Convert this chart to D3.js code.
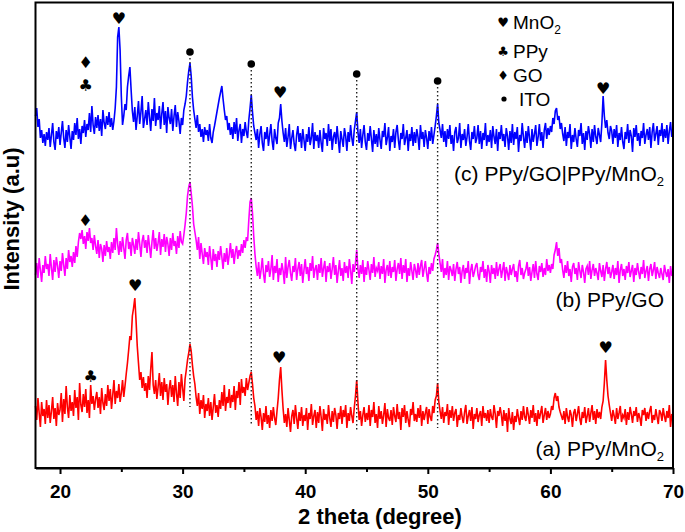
<!DOCTYPE html>
<html>
<head>
<meta charset="utf-8">
<script src="https://cdn.jsdelivr.net/npm/d3@7"></script>
<style>
  html, body { margin: 0; padding: 0; background: #fff; }
  svg { display: block; }
</style>
</head>
<body>
<svg id="chart" width="685" height="532"></svg>
<script>
// ---------------- DATA ----------------
// 2 theta grid: 18.0 .. 70.0 in steps of 0.1 degree
const thetaStart = 18, thetaEnd = 70, thetaStep = 0.1;
const xTicks = [20, 30, 40, 50, 60, 70];
const xMinorTicks = [25, 35, 45, 55, 65];

// (c) PPy/GO|PPy/MnO2 (stacked intensity, a.u.)
const seriesC = [
352,360,341,349,330,338,325,334,322,336,
328,340,321,333,345,326,318,337,329,341,
323,335,347,330,320,338,326,343,331,319,
337,328,345,333,350,329,339,324,342,335,
348,331,344,338,355,336,362,343,334,351,
340,353,337,349,332,358,345,339,352,343,
356,341,350,338,347,360,381,431,441,418,
372,343,352,364,358,381,392,401,378,357,
346,361,338,352,367,344,356,372,340,349,
358,343,366,351,337,359,347,370,342,355,
348,362,339,354,366,343,357,335,361,350,
344,359,337,352,363,341,356,347,334,350,
343,358,364,372,386,397,405,392,371,358,
349,340,353,336,344,331,339,326,341,333,
338,327,344,330,325,336,342,349,356,363,
370,376,382,369,358,348,352,338,345,333,
341,329,346,334,350,327,338,344,325,339,
332,346,336,330,348,360,373,356,342,335,
328,339,320,334,342,325,317,336,329,341,
322,333,344,327,318,339,330,324,345,350,
364,347,335,326,340,321,331,344,319,330,
338,324,317,333,342,326,335,320,339,328,
317,334,326,341,323,330,345,319,336,327,
333,320,338,325,316,340,329,335,322,344,
327,339,318,331,336,324,342,328,315,337,
329,321,340,332,317,336,326,343,330,322,
338,347,356,336,325,339,320,333,343,326,
318,335,327,342,329,316,338,324,334,321,
340,328,319,337,331,345,323,330,341,317,
332,326,339,320,336,343,328,318,335,329,
344,323,330,338,317,334,327,341,322,336,
325,339,331,318,343,329,336,321,338,330,
319,337,327,341,324,333,342,352,364,345,
338,330,344,326,337,321,339,329,343,324,
333,317,336,341,325,330,345,320,334,328,
339,322,331,344,327,318,336,329,342,325,
330,343,324,337,319,335,328,345,322,333,
326,338,320,342,331,324,339,317,336,329,
343,327,334,321,340,332,318,337,325,344,
323,336,329,341,316,333,327,345,331,320,
337,325,342,330,318,339,326,334,343,322,
331,344,327,336,320,338,345,329,340,333,
342,336,350,344,357,360,348,352,339,345,
334,327,341,322,336,330,344,319,333,326,
340,329,321,338,332,345,324,335,318,337,
328,342,334,320,339,326,343,331,324,340,
333,326,345,372,352,340,348,335,329,342,
337,324,339,330,343,321,335,328,341,326,
319,336,329,344,325,338,332,316,340,331,
343,327,335,322,337,330,345,324,333,339,
328,341,320,336,345,327,334,342,323,338,
332,345,326,339,330,343,324,337,346,331,
340];

// (b) PPy/GO
const seriesB = [
193,205,190,210,198,186,203,195,212,199,
204,192,214,200,188,208,196,211,202,190,
207,197,215,203,192,210,199,218,206,212,
201,216,205,222,211,226,235,229,238,224,
232,219,236,227,240,225,230,218,233,222,
214,228,210,224,219,206,223,212,227,216,
221,209,226,215,230,218,240,224,213,227,
216,231,220,209,228,235,219,226,212,230,
223,214,229,218,236,224,211,227,233,220,
228,215,233,222,210,226,238,219,230,217,
225,236,213,229,221,234,216,231,224,212,
230,218,235,222,227,214,232,220,237,226,
224,233,243,255,272,281,286,275,262,244,
236,228,218,231,209,225,214,204,220,211,
216,203,222,210,198,219,207,214,201,217,
208,222,211,199,215,206,220,203,213,225,
210,219,204,216,222,209,218,212,224,215,
228,220,231,227,248,266,270,255,232,214,
201,192,206,189,198,210,194,185,203,196,
207,191,199,213,188,202,195,209,186,200,
193,205,197,184,211,190,201,208,195,187,
202,196,210,188,199,206,192,204,185,198,
209,194,201,187,205,197,212,190,199,203,
188,204,195,210,191,200,207,186,202,196,
205,189,199,211,193,203,185,197,208,192,
200,187,206,195,202,190,209,198,184,204,
196,205,218,199,190,203,194,208,186,201,
193,207,198,188,204,195,211,191,200,197,
206,189,202,194,209,185,198,203,192,207,
190,201,196,208,187,199,205,194,210,189,
203,195,209,186,200,192,206,197,188,204,
198,190,205,193,202,208,191,199,207,195,
186,201,194,205,197,209,213,218,225,214,
205,196,209,190,200,193,207,188,202,198,
192,204,187,199,206,194,201,185,197,203,
189,200,195,207,184,198,204,191,196,202,
205,193,188,201,196,207,190,199,186,203,
197,185,203,194,200,189,206,192,199,204,
190,198,206,187,201,195,188,203,193,199,
204,191,197,186,202,208,193,200,189,195,
199,206,192,201,187,196,204,190,207,194,
188,202,196,205,191,200,193,209,197,203,
195,204,199,213,218,226,212,220,205,209,
198,190,203,195,207,192,199,186,201,205,
194,200,188,206,197,190,203,196,185,199,
202,193,207,189,198,204,192,200,195,188,
205,197,191,203,187,199,206,194,201,190,
196,203,189,200,193,207,185,198,204,192,
199,188,202,195,206,191,197,203,186,200,
193,205,196,189,201,194,208,190,197,202,
187,199,204,192,198,206,189,201,195,190,
200,194,188,203,196,191,199,185,202,192,
197];

// (a) PPy/MnO2
const seriesA = [
62,48,70,55,41,66,52,59,44,68,
50,63,45,57,71,49,60,42,65,53,
58,75,46,69,54,82,61,50,73,57,
66,52,78,60,71,48,85,63,56,74,
61,79,55,68,50,83,64,72,58,69,
76,60,71,54,80,65,58,74,62,83,
67,79,59,73,88,64,77,70,84,66,
75,88,71,82,94,105,118,132,128,152,
160,170,148,122,105,88,96,80,91,77,
85,70,92,78,99,116,83,74,88,69,
81,95,72,86,68,90,76,84,63,79,
88,71,83,66,92,75,62,86,70,94,
80,67,89,98,108,115,124,117,103,92,
84,71,62,75,54,68,59,73,50,64,
57,70,52,66,48,61,74,55,63,51,
68,59,76,62,83,57,71,65,79,60,
73,66,82,58,77,70,86,63,89,75,
81,72,90,78,85,92,96,84,70,62,
48,57,42,60,51,38,55,46,62,44,
53,40,58,47,61,50,43,57,70,88,
101,78,59,45,54,41,60,48,36,52,
58,44,63,50,39,56,47,61,42,53,
47,60,38,55,49,64,43,52,58,40,
56,45,62,51,37,59,48,54,44,63,
50,41,57,46,60,53,39,55,49,62,
44,58,51,63,40,55,47,61,52,45,
60,72,88,66,48,57,42,53,61,46,
55,48,63,42,58,51,66,45,54,40,
62,49,57,44,53,65,41,59,50,47,
58,43,61,52,46,64,49,56,38,60,
51,63,45,57,48,41,59,53,66,47,
54,46,60,50,63,42,57,48,55,61,
44,59,51,47,62,55,68,72,85,66,
57,49,61,45,56,52,64,43,58,50,
62,47,55,59,41,53,48,60,51,45,
56,63,44,52,58,47,61,39,54,49,
60,46,53,57,42,62,50,55,47,58,
45,59,51,48,63,54,40,57,52,61,
53,42,58,47,55,36,60,49,44,56,
38,52,46,59,50,43,57,48,62,51,
47,61,53,44,58,50,63,46,55,42,
58,49,55,62,45,53,60,48,57,50,
54,62,58,70,75,67,72,61,56,52,
48,57,44,60,51,46,58,53,41,55,
59,47,54,62,49,43,56,50,61,45,
52,60,46,55,63,48,57,44,59,50,
56,49,61,67,85,108,88,72,63,55,
47,58,52,44,60,49,55,62,46,53,
50,59,43,56,48,61,54,45,57,52,
61,46,55,50,42,58,53,60,47,56,
49,57,62,45,53,48,59,51,44,58,
55,47,60,52,46,57,50,63,41,54,
51];

const seriesColors = ["#0000FF", "#FF00FF", "#FF0000"];
const seriesLabels = ["(c) PPy/GO|PPy/MnO", "(b) PPy/GO", "(a) PPy/MnO"];
const seriesLabelSubs = ["2", "", "2"];
const seriesLabelLevels = [287, 161, 12];

// ITO reference lines: 2 theta, top level, bottom level
const itoTheta = [30.6, 35.6, 44.2, 50.8];
const itoTop = [410, 398, 388, 381];
const itoBottom = [61, 43, 38, 40];

// phase markers placed on peaks: symbol, 2 theta, level
const markSymbols = ["\u2666", "\u2663", "\u2665", "\u2665", "\u2665", "\u2666", "\u2665", "\u2663", "\u2665", "\u2665"];
const markTheta =   [22.1, 22.1, 24.8, 37.96, 64.3, 22.07, 26.12, 22.5, 37.88, 64.5];
const markLevel =   [406, 383, 450, 376, 380, 248, 183, 92, 111, 121];

// legend
const legendSymbols = ["\u2665", "\u2663", "\u2666", "\u25CF"];
const legendNames = ["MnO", "PPy", "GO", "ITO"];
const legendSubs = ["2", "", "", ""];

// ---------------- CHART ----------------
const svg = d3.select("#chart");
const pL = 35.5, pR = 673, pT = 2.5, pB = 468;
const x = d3.scaleLinear().domain([thetaStart, thetaEnd]).range([pL, pR]);
const y = d3.scaleLinear().domain([0, 465]).range([pB, pT + 0.5]);

const thetas = seriesA.map((_, i) => thetaStart + i * thetaStep);
const line = d3.line().x((d, i) => x(thetas[i])).y(d => y(d));

const textFont = "'Liberation Sans', Arial, Helvetica, sans-serif";
const symFont = "'DejaVu Sans', sans-serif";

// traces
[seriesC, seriesB, seriesA].forEach((s, k) => {
  svg.append("path")
    .datum(s)
    .attr("fill", "none")
    .attr("stroke", seriesColors[k])
    .attr("stroke-width", 1.6)
    .attr("stroke-linejoin", "miter")
    .attr("d", line);
});

// dotted ITO lines
svg.append("g").selectAll("line").data(itoTheta).join("line")
  .attr("x1", d => x(d)).attr("x2", d => x(d))
  .attr("y1", (d, i) => y(itoTop[i])).attr("y2", (d, i) => y(itoBottom[i]))
  .attr("stroke", "#222").attr("stroke-width", 1.4)
  .attr("stroke-dasharray", "1.4,2.6");

// ITO dots
svg.append("g").selectAll("circle").data(itoTheta).join("circle")
  .attr("cx", d => x(d)).attr("cy", (d, i) => y(itoTop[i]) - 6)
  .attr("r", 3.8).attr("fill", "#000");

// phase markers
svg.append("g").selectAll("text").data(markSymbols).join("text")
  .attr("x", (d, i) => x(markTheta[i]))
  .attr("y", (d, i) => y(markLevel[i]))
  .attr("text-anchor", "middle")
  .attr("dominant-baseline", "central")
  .attr("font-family", symFont)
  .attr("font-size", 16)
  .attr("fill", "#000")
  .text(d => d);

// series labels
seriesLabels.forEach((t, k) => {
  const tx = svg.append("text")
    .attr("x", 664).attr("y", y(seriesLabelLevels[k]))
    .attr("text-anchor", "end")
    .attr("font-family", textFont)
    .attr("font-size", 21)
    .attr("fill", "#000")
    .text(t);
  if (seriesLabelSubs[k]) {
    tx.append("tspan").attr("font-size", 13).attr("dy", 5).text(seriesLabelSubs[k]);
  }
});

// legend
const legY = [22, 51, 75, 99];
legendNames.forEach((n, k) => {
  if (k === 3) {
    svg.append("circle").attr("cx", 504).attr("cy", legY[k]).attr("r", 2.6).attr("fill", "#000");
  } else {
    svg.append("text").attr("x", 503).attr("y", legY[k])
      .attr("text-anchor", "middle").attr("dominant-baseline", "central")
      .attr("font-family", symFont).attr("font-size", 13).text(legendSymbols[k]);
  }
  const t = svg.append("text")
    .attr("x", k === 3 ? 519 : 513).attr("y", legY[k] + 7)
    .attr("font-family", textFont).attr("font-size", 19).text(n);
  if (legendSubs[k]) t.append("tspan").attr("font-size", 12).attr("dy", 5).text(legendSubs[k]);
});

// frame
svg.append("rect")
  .attr("x", pL).attr("y", pT).attr("width", pR - pL).attr("height", pB - pT)
  .attr("fill", "none").attr("stroke", "#000").attr("stroke-width", 2);

// x axis
const xAxis = svg.append("g").attr("transform", `translate(0,${pB})`)
  .call(d3.axisBottom(x).tickValues(xTicks).tickSize(6).tickSizeOuter(0).tickFormat(d3.format("d")));
xAxis.select(".domain").attr("stroke-width", 2);
xAxis.selectAll(".tick line").attr("stroke-width", 2);
xAxis.selectAll(".tick text")
  .attr("font-family", textFont).attr("font-weight", "bold").attr("font-size", 19)
  .attr("dy", "1.12em").attr("fill", "#000");
const minorAxis = svg.append("g").attr("transform", `translate(0,${pB})`)
  .call(d3.axisBottom(x).tickValues(xMinorTicks).tickSize(4).tickFormat(""));
minorAxis.select(".domain").remove();
minorAxis.selectAll(".tick line").attr("stroke-width", 2);

// axis titles
svg.append("text").attr("x", 380).attr("y", 524)
  .attr("text-anchor", "middle").attr("font-family", textFont)
  .attr("font-weight", "bold").attr("font-size", 22).text("2 theta (degree)");
svg.append("text").attr("transform", "translate(19,219) rotate(-90)")
  .attr("text-anchor", "middle").attr("font-family", textFont)
  .attr("font-weight", "bold").attr("font-size", 22).text("Intensity (a.u)");
</script>
</body>
</html>
